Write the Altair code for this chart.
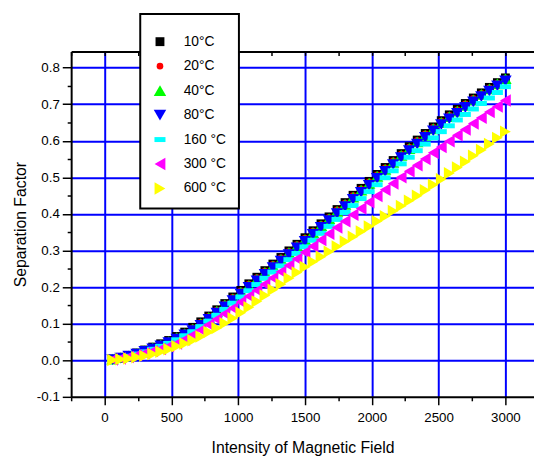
import altair as alt
import pandas as pd

X = [60, 120, 180, 240, 300, 360, 420, 480, 540, 600, 660, 720, 780, 840, 900, 960,
     1020, 1080, 1140, 1200, 1260, 1320, 1380, 1440, 1500, 1560, 1620, 1680, 1740, 1800,
     1860, 1920, 1980, 2040, 2100, 2160, 2220, 2280, 2340, 2400, 2460, 2520, 2580, 2640,
     2700, 2760, 2820, 2880, 2940, 3000]

T10 = [0.003, 0.008, 0.013, 0.020, 0.028, 0.036, 0.045, 0.054, 0.065, 0.077,
       0.090, 0.105, 0.121, 0.138, 0.155, 0.173, 0.191, 0.209, 0.227, 0.245,
       0.263, 0.281, 0.299, 0.317, 0.335, 0.354, 0.373, 0.392, 0.412, 0.431,
       0.451, 0.470, 0.489, 0.508, 0.527, 0.546, 0.565, 0.584, 0.602, 0.620,
       0.638, 0.655, 0.671, 0.686, 0.702, 0.717, 0.731, 0.746, 0.759, 0.772]
T20 = [0.003, 0.008, 0.013, 0.020, 0.027, 0.035, 0.044, 0.053, 0.064, 0.076,
       0.089, 0.104, 0.120, 0.137, 0.154, 0.172, 0.190, 0.208, 0.226, 0.244,
       0.262, 0.280, 0.298, 0.316, 0.334, 0.353, 0.372, 0.391, 0.411, 0.430,
       0.450, 0.469, 0.488, 0.507, 0.526, 0.545, 0.564, 0.583, 0.601, 0.619,
       0.637, 0.654, 0.670, 0.685, 0.701, 0.716, 0.730, 0.745, 0.758, 0.771]
T40 = [0.003, 0.007, 0.012, 0.019, 0.026, 0.034, 0.042, 0.051, 0.062, 0.073,
       0.085, 0.100, 0.117, 0.134, 0.151, 0.168, 0.186, 0.204, 0.222, 0.240,
       0.258, 0.276, 0.294, 0.312, 0.330, 0.349, 0.368, 0.387, 0.407, 0.426,
       0.446, 0.465, 0.484, 0.503, 0.522, 0.541, 0.560, 0.579, 0.597, 0.615,
       0.633, 0.650, 0.666, 0.681, 0.697, 0.712, 0.727, 0.742, 0.756, 0.770]
T80 = [0.002, 0.006, 0.011, 0.017, 0.024, 0.031, 0.039, 0.048, 0.058, 0.069,
       0.081, 0.095, 0.112, 0.129, 0.146, 0.163, 0.181, 0.199, 0.217, 0.235,
       0.253, 0.271, 0.289, 0.307, 0.325, 0.344, 0.363, 0.382, 0.401, 0.420,
       0.440, 0.459, 0.478, 0.497, 0.516, 0.535, 0.554, 0.573, 0.591, 0.609,
       0.627, 0.644, 0.660, 0.675, 0.691, 0.706, 0.721, 0.736, 0.750, 0.764]
T160 = [0.002, 0.006, 0.011, 0.017, 0.023, 0.030, 0.038, 0.046, 0.056, 0.067,
        0.078, 0.092, 0.107, 0.123, 0.139, 0.156, 0.173, 0.190, 0.207, 0.224,
        0.241, 0.258, 0.275, 0.292, 0.310, 0.328, 0.347, 0.366, 0.385, 0.404,
        0.423, 0.442, 0.461, 0.480, 0.499, 0.518, 0.537, 0.555, 0.573, 0.591,
        0.608, 0.625, 0.641, 0.657, 0.672, 0.687, 0.702, 0.717, 0.732, 0.748]
T300 = [0.002, 0.005, 0.009, 0.014, 0.019, 0.025, 0.031, 0.038, 0.046, 0.057,
        0.069, 0.083, 0.097, 0.112, 0.127, 0.142, 0.159, 0.175, 0.191, 0.208,
        0.225, 0.242, 0.259, 0.277, 0.295, 0.312, 0.329, 0.346, 0.363, 0.380,
        0.398, 0.415, 0.432, 0.449, 0.466, 0.483, 0.500, 0.517, 0.533, 0.550,
        0.567, 0.583, 0.599, 0.615, 0.631, 0.647, 0.663, 0.679, 0.694, 0.710]
T600 = [0.001, 0.003, 0.005, 0.008, 0.012, 0.017, 0.023, 0.030, 0.038, 0.046,
        0.055, 0.065, 0.077, 0.088, 0.101, 0.115, 0.130, 0.145, 0.161, 0.177,
        0.193, 0.208, 0.224, 0.240, 0.255, 0.269, 0.283, 0.297, 0.311, 0.325,
        0.338, 0.352, 0.366, 0.380, 0.394, 0.408, 0.422, 0.436, 0.450, 0.465,
        0.480, 0.495, 0.511, 0.527, 0.543, 0.559, 0.575, 0.591, 0.608, 0.625]

SERIES = ["10°C", "20°C", "40°C", "80°C", "160 °C", "300 °C", "600 °C"]
VALUES = [T10, T20, T40, T80, T160, T300, T600]
COLORS = ["#000000", "#FF0000", "#00FF00", "#0000FF", "#00FFFF", "#FF00FF", "#FFFF00"]
SHAPES = ["square", "circle", "triangle-up", "triangle-down",
          "M-1,-0.45L1,-0.45L1,0.45L-1,0.45Z", "triangle-left", "triangle-right"]
SIZES = [81, 45, 160, 160, 125, 160, 160]

X_TICKS = [-250, 0, 250, 500, 750, 1000, 1250, 1500, 1750, 2000, 2250, 2500, 2750, 3000]
Y_TICKS = [-0.1, -0.05, 0.0, 0.05, 0.1, 0.15, 0.2, 0.25, 0.3, 0.35, 0.4, 0.45,
           0.5, 0.55, 0.6, 0.65, 0.7, 0.75, 0.8]

rows = []
for name, vals in zip(SERIES, VALUES):
    for xv, yv in zip(X, vals):
        rows.append({"x": xv, "y": yv, "series": name})
df = pd.DataFrame(rows)

FONT = "Liberation Sans"
xscale = alt.Scale(domain=[-250, 3214], nice=False, zero=False)
yscale = alt.Scale(domain=[-0.1, 0.8443], nice=False, zero=False)

xmajor = "datum.value % 500 === 0"
ymajor = "abs(datum.value*10 - round(datum.value*10)) < 0.01"

x_axis = alt.Axis(
    values=X_TICKS,
    title="Intensity of Magnetic Field",
    labelExpr="datum.value >= 0 && datum.value % 500 === 0 ? format(datum.value, 'd') : ''",
    tickSize={"condition": {"test": xmajor, "value": 8}, "value": 4},
    gridOpacity={"condition": {"test": xmajor, "value": 1}, "value": 0},
    grid=True, gridColor="#0000FF", gridWidth=2,
    domainColor="black", domainWidth=2, tickColor="black", tickWidth=1.5,
    labelFont=FONT, labelFontSize=13.5, labelColor="black", labelPadding=6,
    titleFont=FONT, titleFontSize=16, titleFontWeight="normal", titleColor="black",
    titlePadding=16, labelFlush=False, labelOverlap=False,
)
y_axis = alt.Axis(
    values=Y_TICKS,
    title="Separation Factor",
    labelExpr="abs(datum.value*10 - round(datum.value*10)) < 0.01 ? ((datum.value < 0 ? '-' : '') + format(abs(datum.value), '.1f')) : ''",
    tickSize={"condition": {"test": ymajor, "value": 9}, "value": 4},
    gridOpacity={"condition": {"test": ymajor + " && datum.value > -0.05", "value": 1}, "value": 0},
    grid=True, gridColor="#0000FF", gridWidth=2,
    domainColor="black", domainWidth=2, tickColor="black", tickWidth=1.5,
    labelFont=FONT, labelFontSize=13.5, labelColor="black", labelPadding=3,
    titleFont=FONT, titleFontSize=16, titleFontWeight="normal", titleColor="black",
    titlePadding=8, labelFlush=False, labelOverlap=False,
)

legend = alt.Legend(
    title=" ", orient="none", legendX=70, legendY=-37.9,
    padding=13, strokeColor="black", fillColor="white",
    labelFont=FONT, labelFontSize=14, labelColor="black", labelOffset=17,
    rowPadding=10.8, symbolStrokeWidth=0, symbolOpacity=1,
    titleFontSize=4, titlePadding=4,
)

points = alt.Chart(df).mark_point(filled=True, opacity=1, strokeWidth=0).encode(
    x=alt.X("x:Q", scale=xscale, axis=x_axis),
    y=alt.Y("y:Q", scale=yscale, axis=y_axis),
    color=alt.Color("series:N", scale=alt.Scale(domain=SERIES, range=COLORS), sort=SERIES, legend=legend),
    shape=alt.Shape("series:N", scale=alt.Scale(domain=SERIES, range=SHAPES), sort=SERIES, legend=legend),
    size=alt.Size("series:N", scale=alt.Scale(type="ordinal", domain=SERIES, range=SIZES), sort=SERIES, legend=legend),
)

top = alt.Chart(df).mark_point(opacity=0).encode(
    x=alt.X("x:Q", scale=xscale, axis=alt.Axis(
        orient="top", values=X_TICKS, labels=False, title=None, grid=False,
        tickSize={"expr": "-4"}, tickColor="black", tickWidth=1.5,
        domainColor="black", domainWidth=2)),
    y=alt.Y("y:Q", scale=yscale, axis=None),
)

chart = alt.layer(points, top).resolve_axis(x="independent", y="independent").properties(
    width=469, height=350,
    autosize=alt.AutoSizeParams(type="none"),
    padding={"left": 64, "top": 41, "right": 0, "bottom": 62},
).configure(font=FONT).configure_view(stroke=None).configure_legend(strokeWidth=2)

chart.save("out.html", embed_options={"renderer": "svg", "actions": False})
